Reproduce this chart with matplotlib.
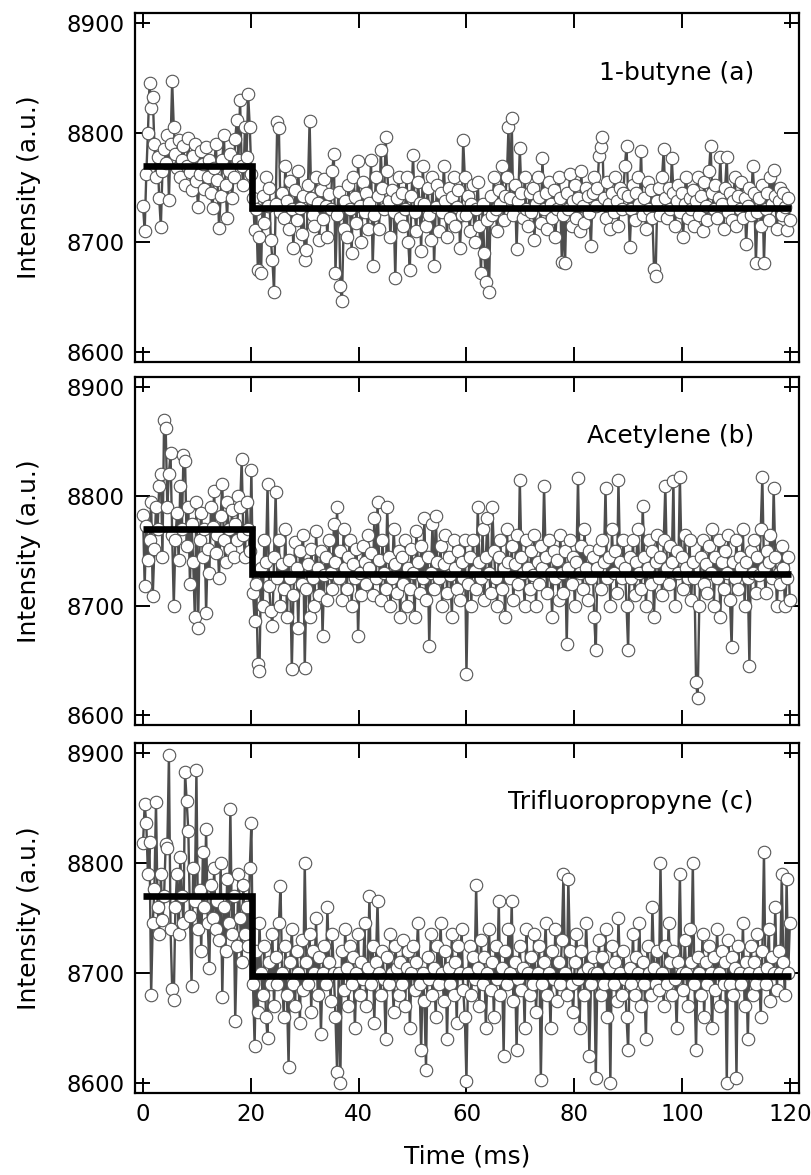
import numpy as np
import matplotlib
matplotlib.use("Agg")
import matplotlib.pyplot as plt

plt.rcParams['font.family'] = ['DejaVu Sans']

# ---------------- data ----------------
sample_interval_ms = 0.3
x_ticks = [0, 20, 40, 60, 80, 100, 120]
y_ticks = [8600, 8700, 8800, 8900]
panel_labels = ["1-butyne (a)", "Acetylene (b)", "Trifluoropropyne (c)"]

butyne = [
    8733, 8710, 8762, 8800, 8845, 8823, 8833, 8790, 8760, 8778, 8740, 8714, 8765, 8785, 8772, 8798, 8739, 8790, 8847, 8805,
    8781, 8768, 8793, 8760, 8775, 8788, 8752, 8770, 8795, 8764, 8748, 8779, 8790, 8756, 8732, 8762, 8783, 8771, 8749, 8787,
    8760, 8775, 8745, 8731, 8768, 8790, 8757, 8713, 8742, 8775, 8798, 8752, 8722, 8765, 8781, 8740, 8760, 8794, 8812, 8775,
    8830, 8770, 8752, 8805, 8778, 8835, 8805, 8762, 8740, 8711, 8730, 8675, 8705, 8672, 8742, 8718, 8760, 8733, 8750, 8702,
    8684, 8655, 8735, 8810, 8804, 8728, 8745, 8722, 8770, 8738, 8712, 8756, 8730, 8695, 8748, 8720, 8765, 8731, 8708, 8742,
    8684, 8693, 8752, 8811, 8740, 8725, 8715, 8760, 8736, 8702, 8748, 8721, 8758, 8733, 8705, 8744, 8730, 8765, 8781, 8672,
    8725, 8746, 8660, 8646, 8712, 8738, 8705, 8752, 8730, 8690, 8760, 8741, 8718, 8774, 8733, 8700, 8755, 8728, 8745, 8712,
    8736, 8775, 8678, 8725, 8760, 8742, 8712, 8784, 8750, 8730, 8796, 8765, 8738, 8705, 8748, 8728, 8667, 8740, 8760, 8722,
    8745, 8715, 8730, 8760, 8700, 8675, 8742, 8780, 8728, 8710, 8755, 8736, 8692, 8770, 8735, 8715, 8750, 8725, 8702, 8760,
    8678, 8732, 8752, 8710, 8745, 8728, 8770, 8738, 8705, 8750, 8722, 8741, 8760, 8715, 8732, 8748, 8695, 8725, 8793, 8760,
    8725, 8742, 8710, 8735, 8752, 8700, 8730, 8755, 8715, 8672, 8735, 8690, 8664, 8720, 8655, 8742, 8725, 8760, 8730, 8710,
    8748, 8735, 8770, 8720, 8742, 8760, 8805, 8740, 8813, 8725, 8752, 8694, 8738, 8786, 8745, 8722, 8760, 8730, 8715, 8745,
    8728, 8750, 8702, 8735, 8760, 8741, 8718, 8777, 8730, 8745, 8712, 8755, 8735, 8722, 8748, 8705, 8730, 8760, 8740, 8682,
    8725, 8681, 8745, 8730, 8762, 8715, 8738, 8752, 8722, 8740, 8710, 8765, 8733, 8718, 8750, 8742, 8727, 8697, 8745, 8760,
    8733, 8750, 8779, 8787, 8796, 8740, 8722, 8755, 8735, 8712, 8745, 8728, 8760, 8738, 8715, 8750, 8730, 8745, 8770, 8788,
    8742, 8696, 8730, 8752, 8720, 8745, 8760, 8735, 8783, 8725, 8740, 8712, 8755, 8730, 8748, 8722, 8676, 8669, 8738, 8750,
    8725, 8760, 8785, 8740, 8722, 8750, 8730, 8777, 8745, 8715, 8738, 8752, 8728, 8745, 8705, 8735, 8760, 8722, 8740, 8730,
    8748, 8715, 8738, 8760, 8725, 8742, 8710, 8755, 8733, 8720, 8765, 8788, 8745, 8730, 8752, 8722, 8740, 8778, 8735, 8712,
    8750, 8778, 8728, 8745, 8720, 8738, 8760, 8715, 8742, 8730, 8755, 8722, 8740, 8698, 8733, 8750, 8725, 8770, 8745, 8681,
    8728, 8740, 8715, 8752, 8681, 8730, 8745, 8720, 8760, 8735, 8766, 8742, 8712, 8738, 8750, 8725, 8745, 8732, 8711, 8740,
    8720,
]

acetylene = [
    8783, 8718, 8773, 8742, 8760, 8795, 8709, 8752, 8790, 8770, 8810, 8821, 8745, 8870, 8863, 8790, 8821, 8840, 8765, 8700,
    8760, 8785, 8742, 8810, 8770, 8838, 8832, 8755, 8790, 8720, 8775, 8740, 8690, 8795, 8680, 8760, 8785, 8745, 8770, 8693,
    8752, 8730, 8790, 8772, 8805, 8748, 8765, 8725, 8782, 8811, 8760, 8740, 8795, 8770, 8752, 8788, 8745, 8775, 8760, 8800,
    8790, 8834, 8765, 8745, 8795, 8770, 8750, 8824, 8712, 8686, 8720, 8647, 8640, 8735, 8700, 8760, 8740, 8811, 8718, 8695,
    8682, 8745, 8804, 8725, 8760, 8700, 8738, 8715, 8770, 8690, 8742, 8725, 8642, 8710, 8758, 8735, 8680, 8750, 8720, 8765,
    8643, 8715, 8738, 8690, 8752, 8725, 8700, 8768, 8735, 8710, 8750, 8672, 8728, 8745, 8705, 8760, 8730, 8715, 8775, 8740,
    8790, 8725, 8750, 8705, 8770, 8735, 8715, 8745, 8760, 8700, 8738, 8725, 8752, 8672, 8730, 8710, 8755, 8740, 8720, 8765,
    8735, 8748, 8710, 8780, 8725, 8795, 8742, 8705, 8760, 8730, 8715, 8790, 8745, 8700, 8725, 8770, 8738, 8712, 8750, 8690,
    8745, 8720, 8760, 8700, 8735, 8715, 8752, 8730, 8690, 8768, 8740, 8712, 8755, 8725, 8780, 8705, 8745, 8663, 8730, 8775,
    8715, 8782, 8740, 8725, 8755, 8700, 8738, 8765, 8712, 8745, 8728, 8690, 8760, 8735, 8715, 8750, 8705, 8740, 8725, 8760,
    8638, 8720, 8745, 8700, 8760, 8732, 8715, 8790, 8740, 8725, 8770, 8705, 8745, 8780, 8730, 8712, 8790, 8750, 8725, 8700,
    8745, 8760, 8715, 8735, 8690, 8770, 8740, 8725, 8755, 8705, 8738, 8765, 8720, 8815, 8745, 8730, 8700, 8760, 8735, 8715,
    8750, 8728, 8765, 8700, 8740, 8720, 8755, 8735, 8810, 8745, 8712, 8760, 8730, 8690, 8750, 8725, 8742, 8705, 8765, 8730,
    8712, 8750, 8665, 8735, 8760, 8720, 8745, 8700, 8740, 8817, 8730, 8755, 8715, 8770, 8735, 8705, 8750, 8725, 8745, 8690,
    8660, 8735, 8752, 8715, 8760, 8740, 8808, 8725, 8745, 8700, 8770, 8730, 8750, 8712, 8815, 8740, 8725, 8760, 8735, 8700,
    8660, 8745, 8725, 8760, 8710, 8740, 8770, 8730, 8715, 8791, 8745, 8700, 8735, 8760, 8720, 8750, 8690, 8740, 8765, 8725,
    8745, 8710, 8760, 8810, 8735, 8720, 8755, 8740, 8814, 8700, 8750, 8730, 8818, 8745, 8715, 8765, 8735, 8725, 8760, 8705,
    8740, 8725, 8630, 8616, 8700, 8745, 8760, 8720, 8738, 8712, 8755, 8730, 8770, 8700, 8745, 8725, 8760, 8690, 8740, 8715,
    8750, 8730, 8765, 8705, 8662, 8740, 8725, 8760, 8715, 8745, 8735, 8770, 8700, 8740, 8725, 8645, 8750, 8730, 8760, 8712,
    8745, 8728, 8770, 8818, 8735, 8712, 8750, 8740, 8765, 8725, 8808, 8745, 8700, 8730, 8720, 8755, 8735, 8700, 8725, 8745,
    8705,
]

trifluoropropyne = [
    8818, 8853, 8836, 8790, 8819, 8680, 8745, 8776, 8855, 8760, 8735, 8790, 8748, 8770, 8817, 8813, 8898, 8740, 8686, 8676,
    8760, 8790, 8735, 8805, 8770, 8745, 8882, 8856, 8829, 8752, 8688, 8795, 8765, 8884, 8740, 8775, 8720, 8810, 8760, 8831,
    8745, 8705, 8780, 8750, 8795, 8740, 8765, 8730, 8800, 8678, 8760, 8720, 8785, 8745, 8849, 8735, 8770, 8657, 8725, 8790,
    8750, 8710, 8780, 8735, 8760, 8725, 8795, 8836, 8690, 8634, 8720, 8665, 8745, 8700, 8680, 8725, 8660, 8641, 8710, 8690,
    8735, 8670, 8715, 8690, 8745, 8779, 8700, 8660, 8725, 8680, 8615, 8710, 8740, 8690, 8670, 8720, 8700, 8655, 8730, 8685,
    8800, 8710, 8690, 8735, 8665, 8720, 8700, 8750, 8680, 8715, 8645, 8700, 8725, 8690, 8760, 8710, 8675, 8735, 8700, 8660,
    8610, 8700, 8600, 8720, 8685, 8740, 8705, 8670, 8725, 8690, 8715, 8650, 8700, 8735, 8680, 8710, 8695, 8745, 8670, 8705,
    8770, 8690, 8725, 8655, 8710, 8765, 8700, 8680, 8720, 8695, 8640, 8715, 8690, 8735, 8700, 8665, 8725, 8705, 8680, 8710,
    8690, 8730, 8670, 8705, 8720, 8650, 8700, 8725, 8685, 8710, 8745, 8690, 8630, 8700, 8675, 8612, 8715, 8695, 8735, 8680,
    8705, 8660, 8725, 8690, 8745, 8700, 8675, 8720, 8640, 8705, 8690, 8735, 8680, 8710, 8655, 8725, 8700, 8740, 8685, 8660,
    8602, 8700, 8725, 8680, 8715, 8695, 8780, 8705, 8670, 8730, 8690, 8715, 8650, 8700, 8740, 8685, 8710, 8660, 8725, 8695,
    8765, 8680, 8705, 8625, 8720, 8690, 8740, 8700, 8765, 8675, 8710, 8630, 8695, 8725, 8685, 8705, 8650, 8740, 8700, 8680,
    8715, 8690, 8735, 8665, 8700, 8725, 8603, 8690, 8710, 8745, 8680, 8700, 8650, 8720, 8695, 8740, 8675, 8710, 8690, 8730,
    8790, 8700, 8680, 8785, 8720, 8690, 8665, 8710, 8735, 8695, 8650, 8720, 8700, 8680, 8745, 8705, 8625, 8690, 8715, 8700,
    8605, 8700, 8730, 8680, 8715, 8690, 8740, 8660, 8705, 8600, 8725, 8690, 8710, 8675, 8750, 8700, 8680, 8720, 8695, 8660,
    8630, 8705, 8690, 8735, 8680, 8715, 8700, 8745, 8670, 8710, 8690, 8640, 8725, 8700, 8680, 8760, 8705, 8690, 8720, 8685,
    8800, 8700, 8670, 8725, 8690, 8745, 8710, 8680, 8720, 8695, 8650, 8710, 8790, 8700, 8685, 8730, 8700, 8670, 8740, 8710,
    8800, 8690, 8630, 8715, 8700, 8680, 8735, 8660, 8710, 8690, 8725, 8700, 8650, 8715, 8685, 8740, 8700, 8670, 8720, 8690,
    8710, 8600, 8730, 8690, 8715, 8680, 8705, 8605, 8725, 8700, 8690, 8745, 8670, 8710, 8640, 8700, 8725, 8680, 8710, 8690,
    8735, 8700, 8660, 8720, 8810, 8690, 8705, 8740, 8675, 8715, 8700, 8760, 8685, 8720, 8700, 8790, 8710, 8680, 8785, 8700,
    8745,
]

# step-function fits: (start, step time, end) in ms and (before, after) levels
fit_times = [0.0, 20.3, 120.3]
fit_levels = {
    "1-butyne (a)": (8770, 8731),
    "Acetylene (b)": (8770, 8729),
    "Trifluoropropyne (c)": (8770, 8697),
}
series = [butyne, acetylene, trifluoropropyne]

# ---------------- figure ----------------
W, H = 812, 1175
fig = plt.figure(figsize=(W / 100, H / 100), dpi=100)

left_px, right_px = 134.7, 799.0
panels_px = [(13.3, 361.7), (377.3, 725.0), (742.6, 1093.3)]

data_color = '#4d4d4d'
for k, ((top, bot), vals, label) in enumerate(zip(panels_px, series, panel_labels)):
    ax = fig.add_axes([left_px / W, 1 - bot / H, (right_px - left_px) / W, (bot - top) / H])
    v = np.asarray(vals, dtype=float)
    t = np.arange(len(v)) * sample_interval_ms
    ax.plot(t, v, '-', color=data_color, lw=1.7, marker='o', ms=9.0,
            mfc='white', mec='#555555', mew=0.8, zorder=2)
    pre, post = fit_levels[label]
    ax.plot([fit_times[0], fit_times[1], fit_times[1], fit_times[2]],
            [pre, pre, post, post], '-', color='black', lw=4.8,
            solid_joinstyle='miter', solid_capstyle='butt', zorder=3)

    ax.set_xlim(-1.55, 121.7)
    ax.set_ylim(8591, 8909)
    ax.set_xticks(x_ticks)
    ax.set_yticks(y_ticks)
    ax.tick_params(direction='in', length=10.8, width=1.4, top=True, right=True,
                   labelsize=16.5, pad=7, color='black')
    for sp in ax.spines.values():
        sp.set_linewidth(1.6)
        sp.set_zorder(5)
    if k < 2:
        ax.tick_params(labelbottom=False)
    ax.set_ylabel('Intensity (a.u.)', fontsize=18)
    ax.yaxis.set_label_coords(-0.141, 0.5)
    ax.text(0.932, 0.830, label, transform=ax.transAxes, ha='right', va='center',
            fontsize=18, zorder=6)
    if k == 2:
        ax.set_xlabel('Time (ms)', fontsize=18)
        ax.xaxis.set_label_coords(0.5, -0.145)
        ax.xaxis.label.set_va('top')

fig.savefig('out.png', dpi=100)
